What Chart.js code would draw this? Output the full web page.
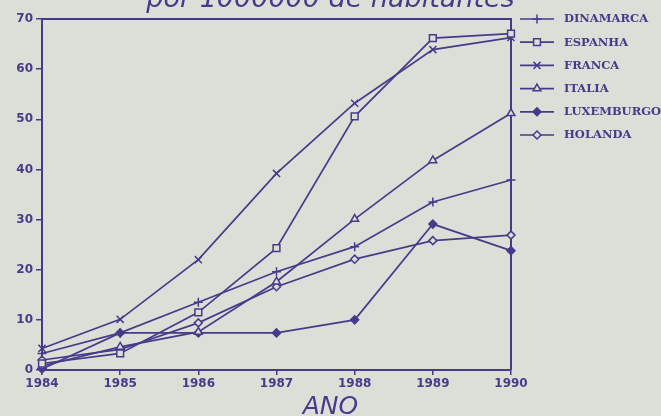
<!DOCTYPE html>
<html>
<head>
<meta charset="utf-8">
<script src="https://cdn.jsdelivr.net/npm/chart.js@4/dist/chart.umd.min.js"></script>
<style>
  html, body { margin: 0; padding: 0; background: #dcdfd8; }
  #frame { position: relative; width: 661px; height: 416px; overflow: hidden; }
  #box { position: absolute; left: 0; top: -16px; width: 661px; height: 438px; }
</style>
</head>
<body>
<div id="frame"><div id="box"><canvas id="c"></canvas></div></div>
<script>
// Years on the horizontal axis
const years = ['1984', '1985', '1986', '1987', '1988', '1989', '1990'];
const yTicks = [0, 10, 20, 30, 40, 50, 60, 70];

// Values per country, one per year
const dinamarca  = [3.3, 7.4, 13.5, 19.6, 24.6, 33.5, 37.9];
const espanha    = [1.3, 3.3, 11.5, 24.3, 50.6, 66.2, 67.1];
const franca     = [4.3, 10.1, 22.0, 39.2, 53.2, 63.9, 66.3];
const italia     = [0.8, 4.6, 7.6, 17.6, 30.1, 41.8, 51.2];
const luxemburgo = [0.2, 7.4, 7.4, 7.4, 10.0, 29.1, 23.8];
const holanda    = [2.0, 4.1, 9.4, 16.6, 22.1, 25.8, 26.9];

const countries = ['DINAMARCA', 'ESPANHA', 'FRANCA', 'ITALIA', 'LUXEMBURGO', 'HOLANDA'];
const series = [dinamarca, espanha, franca, italia, luxemburgo, holanda];

const titleText = 'por 1000000 de habitantes';
const axisTitle = 'ANO';

const ink = '#483a8a';
const paper = '#dcdfd8';

// marker style for each country
const markers = [
  { style: 'cross',    radius: 4.5, fill: paper },
  { style: 'rect',     radius: 4.8, fill: paper },
  { style: 'crossRot', radius: 5,   fill: paper },
  { style: 'triangle', radius: 4.5, fill: paper },
  { style: 'rectRot',  radius: 4,   fill: ink },
  { style: 'rectRot',  radius: 4,   fill: paper }
];

const datasets = countries.map((name, i) => ({
  label: name,
  data: series[i],
  borderColor: ink,
  borderWidth: 1.7,
  pointStyle: markers[i].style,
  pointRadius: markers[i].radius,
  pointBorderColor: ink,
  pointBorderWidth: 1.5,
  pointBackgroundColor: markers[i].fill,
  tension: 0,
  fill: false,
  clip: false
}));

// closes the plot box on the top and right sides
const plotBox = {
  id: 'plotBox',
  beforeDatasetsDraw(chart) {
    const { ctx, chartArea: a } = chart;
    ctx.save();
    ctx.strokeStyle = ink;
    ctx.lineWidth = 2;
    ctx.beginPath();
    ctx.moveTo(a.left, a.top);
    ctx.lineTo(a.right, a.top);
    ctx.lineTo(a.right, a.bottom);
    ctx.stroke();
    ctx.restore();
  }
};

// key to the right of the plot: line sample, marker and name
const sideKey = {
  id: 'sideKey',
  afterDraw(chart) {
    const { ctx, chartArea: a } = chart;
    ctx.save();
    chart.data.datasets.forEach((ds, i) => {
      const y = a.top + i * 23.2;
      const x0 = a.right + 9, x1 = a.right + 43;
      ctx.strokeStyle = ink;
      ctx.lineWidth = 1.7;
      ctx.beginPath();
      ctx.moveTo(x0, y);
      ctx.lineTo(x1, y);
      ctx.stroke();
      ctx.fillStyle = ds.pointBackgroundColor;
      ctx.lineWidth = 1.5;
      Chart.helpers.drawPoint(ctx, { pointStyle: ds.pointStyle, radius: ds.pointRadius, rotation: 0, borderWidth: 1.5 }, (x0 + x1) / 2, y);
      ctx.fillStyle = ink;
      ctx.font = 'bold 11.5px "DejaVu Serif"';
      ctx.textBaseline = 'middle';
      ctx.textAlign = 'left';
      ctx.fillText(ds.label, a.right + 53, y + 0.5);
    });
    ctx.restore();
  }
};

const tickFont = { family: 'DejaVu Sans', size: 12, weight: 'bold' };

new Chart(document.getElementById('c'), {
  type: 'line',
  data: { labels: years, datasets },
  options: {
    responsive: true,
    maintainAspectRatio: false,
    animation: false,
    layout: { padding: 0 },
    plugins: {
      legend: { display: false },
      tooltip: { enabled: false },
      title: {
        display: true,
        text: titleText,
        color: ink,
        font: { family: 'DejaVu Sans', size: 27, style: 'italic', weight: 'normal' },
        padding: { top: 0, bottom: 2.6 }
      },
      subtitle: {
        display: true,
        position: 'bottom',
        text: axisTitle,
        color: ink,
        font: { family: 'DejaVu Sans', size: 25, style: 'italic', weight: 'normal' },
        padding: 0
      }
    },
    scales: {
      x: {
        type: 'category',
        offset: false,
        grid: { display: true, drawOnChartArea: false, drawTicks: true, tickLength: 5, color: ink, lineWidth: 1.5 },
        border: { display: true, color: ink, width: 2 },
        ticks: { color: ink, font: tickFont, padding: 2, maxRotation: 0, autoSkip: false },
        afterFit(s) { s.height = 22; }
      },
      y: {
        min: 0,
        max: 70,
        afterBuildTicks(s) { s.ticks = yTicks.map(v => ({ value: v })); },
        grid: { display: true, drawOnChartArea: false, drawTicks: true, tickLength: 6, color: ink, lineWidth: 1.5 },
        border: { display: true, color: ink, width: 2 },
        ticks: { color: ink, font: tickFont, padding: 3 },
        afterFit(s) { s.width = 42; }
      },
      // empty right-hand axis that keeps room for the key
      key: {
        position: 'right',
        display: true,
        grid: { display: false },
        border: { display: false },
        ticks: { display: false },
        afterFit(s) { s.width = 150; }
      }
    }
  },
  plugins: [plotBox, sideKey]
});
</script>
</body>
</html>
